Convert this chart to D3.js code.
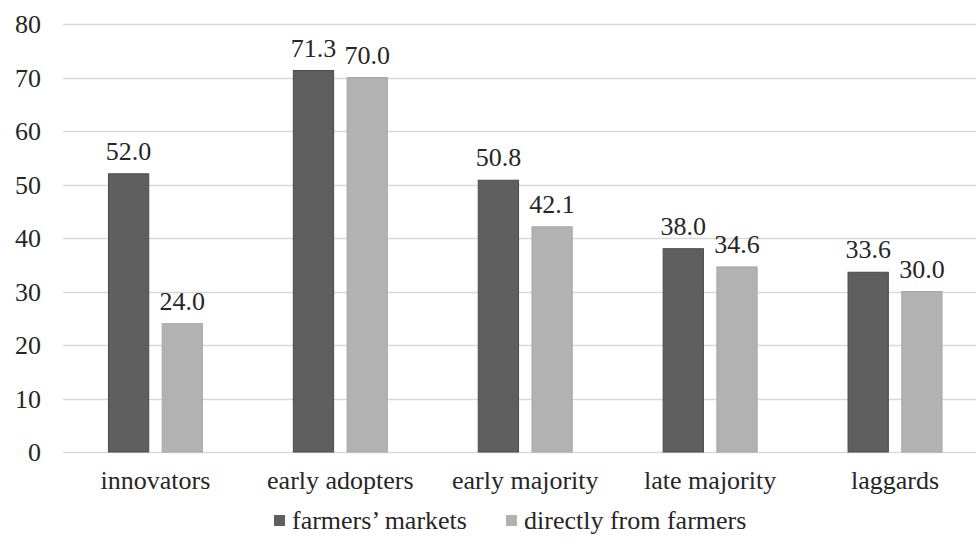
<!DOCTYPE html>
<html>
<head>
<meta charset="utf-8">
<script src="https://cdn.jsdelivr.net/npm/d3@7"></script>
<style>
  html, body { margin: 0; padding: 0; background: #fff; }
  svg { display: block; }
</style>
</head>
<body>
<svg id="chart" width="976" height="545"></svg>
<script>
// Adopter categories and share of respondents buying through each channel
const categories = ["innovators", "early adopters", "early majority", "late majority", "laggards"];
const seriesNames = ["farmers\u2019 markets", "directly from farmers"];
const farmersMarkets = [52.0, 71.3, 50.8, 38.0, 33.6];
const directlyFromFarmers = [24.0, 70.0, 42.1, 34.6, 30.0];
const yTicks = [0, 10, 20, 30, 40, 50, 60, 70, 80];

const seriesValues = [farmersMarkets, directlyFromFarmers];
const colors = ["#5f5f5f", "#b2b2b2"];
const strokes = ["#4a4a4a", "#a8a8a8"];
const FONT = "'Liberation Serif', Tinos, 'Times New Roman', serif";
const TEXT_FILL = "#262626";
const FS = "26px";

// serif styling applied inline to every label
function serif(sel) {
  sel.style("font-family", FONT, "important")
     .style("font-size", FS, "important")
     .attr("fill", TEXT_FILL);
}

const svg = d3.select("#chart");
const plotLeft = 63, plotRight = 987.5, plotTop = 24, plotBottom = 452;

const x = d3.scaleBand().domain(categories).range([plotLeft, plotRight]).paddingInner(0).paddingOuter(0);
const inner = d3.scaleBand().domain(d3.range(seriesNames.length))
  .range([x.bandwidth() / 2 - 47, x.bandwidth() / 2 + 47]).paddingInner(0.25).paddingOuter(0);
const y = d3.scaleLinear().domain([0, 80]).range([plotBottom, plotTop]);

// gridlines
svg.append("g").selectAll("line").data(yTicks).join("line")
  .attr("x1", plotLeft).attr("x2", 976)
  .attr("y1", d => Math.round(y(d)) + 0.5).attr("y2", d => Math.round(y(d)) + 0.5)
  .attr("stroke", "#d9d9d9").attr("stroke-width", 1.5);

// y axis labels
const yAxis = svg.append("g").attr("transform", `translate(${plotLeft - 22},0)`)
  .call(d3.axisLeft(y).tickValues(yTicks).tickSize(0).tickPadding(0).tickFormat(d3.format("d")));
yAxis.attr("font-family", null).attr("font-size", null);
yAxis.select(".domain").remove();
yAxis.selectAll("text").attr("dy", "0.34em").call(serif);

// bars
const groups = svg.append("g").selectAll("g").data(categories).join("g")
  .attr("transform", d => `translate(${x(d)},0)`);

groups.each(function(cat, ci) {
  const g = d3.select(this);
  seriesValues.forEach((vals, si) => {
    const v = vals[ci];
    g.append("rect")
      .attr("x", inner(si)).attr("width", inner.bandwidth())
      .attr("y", y(v)).attr("height", y(0) - y(v))
      .attr("fill", colors[si]).attr("stroke", strokes[si]).attr("stroke-width", 1);
    g.append("text")
      .attr("x", inner(si) + inner.bandwidth() / 2).attr("y", y(v) - 14)
      .attr("text-anchor", "middle")
      .call(serif)
      .text(d3.format(".1f")(v));
  });
});

// x axis category labels
const xAxis = svg.append("g").attr("transform", `translate(0,${plotBottom})`)
  .call(d3.axisBottom(x).tickSize(0).tickPadding(0));
xAxis.attr("font-family", null).attr("font-size", null);
xAxis.select(".domain").remove();
xAxis.selectAll("text").attr("y", 37).attr("dy", 0).call(serif);

// legend
const legendX = [274, 506];
const legend = svg.append("g").selectAll("g").data(seriesNames).join("g")
  .attr("transform", (d, i) => `translate(${legendX[i]},0)`);
legend.append("rect").attr("x", 0).attr("y", 515).attr("width", 11).attr("height", 11)
  .attr("fill", (d, i) => colors[i]);
legend.append("text").attr("x", 18).attr("y", 529)
  .call(serif)
  .text(d => d);
</script>
</body>
</html>
